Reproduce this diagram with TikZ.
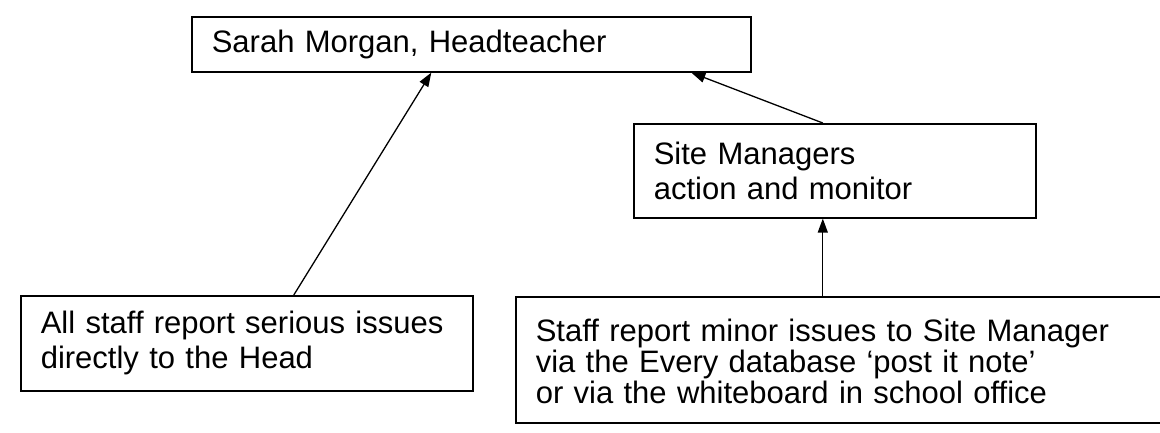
\documentclass[tikz,border=0pt]{standalone}
\usepackage{fontspec}
\setmainfont{Liberation Sans}
\usetikzlibrary{arrows.meta}

\begin{document}
\begin{tikzpicture}[x=1pt,y=-1pt]
	\clip (0,0) rectangle (1160,432);
	\fill[white] (0,0) rectangle (1160,432);
	\begin{scope}[every node/.style = {rectangle, draw, line width=1.6pt, anchor=north west, align=left, inner xsep=20pt, font=\fontsize{31}{35}\selectfont}]
		\node[text width=519, minimum height=55] (head) at (191,16) {Sarah Morgan, Headteacher};
		\node[text width=362, minimum height=94] (site) at (633,123) {Site Managers\\action and monitor};
		\node[text width=412, minimum height=95] (serious) at (20,295) {\mbox{All staff report serious issues}\\directly to the Head};
		\node[text width=700, inner ysep=22pt, text depth=60pt, font=\fontsize{31}{31}\selectfont] (minor) at (515,296) {Staff report minor issues to Site Manager\\via the Every database ‘post it note’\\or via the whiteboard in school office};
	\end{scope}
	\begin{scope}[>={Triangle[length=14pt,width=10pt]},
			every edge/.style={draw=black, line width=1.3pt}]
		\path [->] ([xshift=47pt]serious.north) edge ([xshift=-40pt]head.south);
		\path [->] ([xshift=-12pt]site.north) edge ([xshift=220pt]head.south);
		\path [->] ([xshift=-63pt]minor.north) edge ([xshift=-12pt]site.south);
	\end{scope}
\end{tikzpicture}
\end{document}
